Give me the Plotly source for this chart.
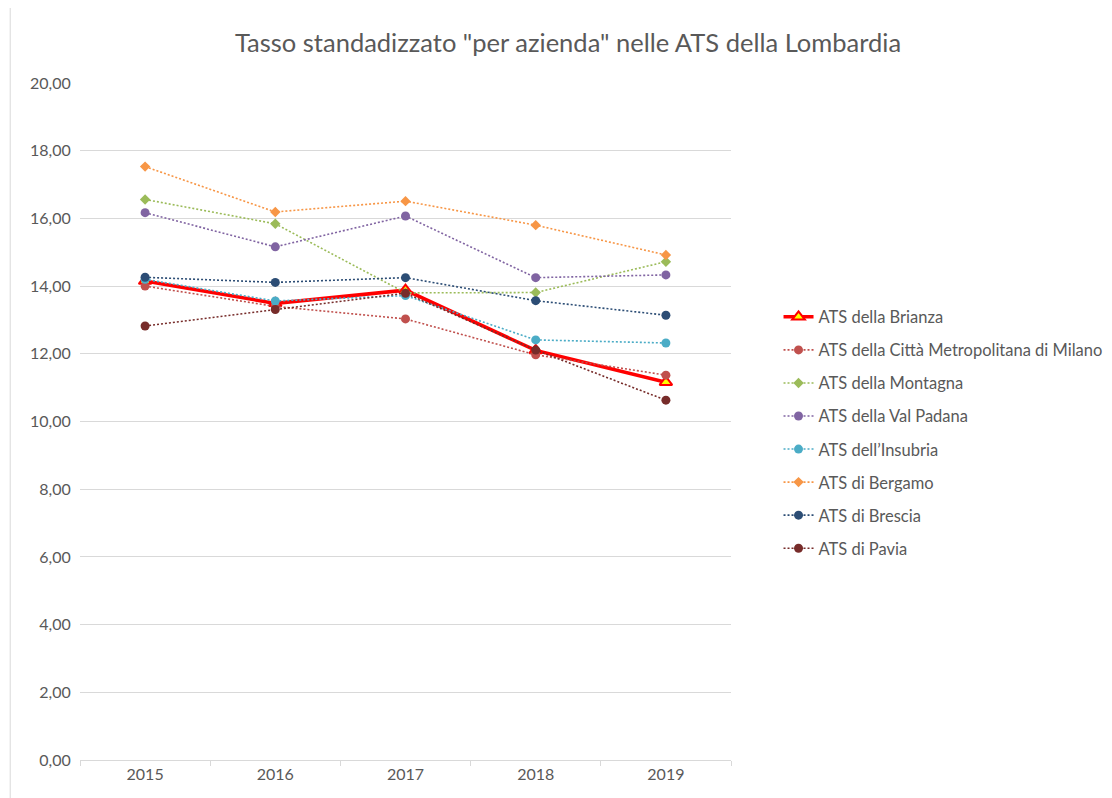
import plotly.graph_objects as go

years = ["2015", "2016", "2017", "2018", "2019"]

brianza = [14.15, 13.49, 13.88, 12.10, 11.16]
milano = [14.00, 13.40, 13.03, 11.97, 11.37]
montagna = [16.56, 15.84, 13.80, 13.81, 14.72]
val_padana = [16.17, 15.16, 16.07, 14.25, 14.33]
insubria = [14.20, 13.56, 13.72, 12.41, 12.32]
bergamo = [17.53, 16.19, 16.51, 15.80, 14.92]
brescia = [14.26, 14.11, 14.25, 13.57, 13.14]
pavia = [12.82, 13.31, 13.79, 12.11, 10.63]

series = [
    ("ATS della Città Metropolitana di Milano", milano, "#C0504D", "circle"),
    ("ATS della Montagna", montagna, "#9BBB59", "diamond"),
    ("ATS della Val Padana", val_padana, "#8064A2", "circle"),
    ("ATS dell\u2019Insubria", insubria, "#4BACC6", "circle"),
    ("ATS di Bergamo", bergamo, "#F79646", "diamond"),
    ("ATS di Brescia", brescia, "#2C4D75", "circle"),
    ("ATS di Pavia", pavia, "#772C2A", "circle"),
]

fig = go.Figure()
fig.add_trace(go.Scatter(
    x=years, y=brianza, name="ATS della Brianza", mode="lines+markers",
    line=dict(color="#FF0000", width=3.5),
    marker=dict(symbol="triangle-up", size=11, color="#FFFF00",
                line=dict(color="#FF0000", width=2)),
    legendgroup="g0",
))
for i, (name, vals, color, sym) in enumerate(series):
    fig.add_trace(go.Scatter(
        x=years, y=vals, name=name, mode="lines+markers",
        line=dict(color=color, width=1.6, dash="2px,2px"),
        marker=dict(symbol=sym, size=9 if sym == "circle" else 8, color=color),
        legendgroup="g%d" % (i + 1),
    ))

fig.update_layout(
    width=1112, height=798,
    margin=dict(l=72, r=387, t=75, b=46),
    paper_bgcolor="white", plot_bgcolor="white",
    font=dict(family="Lato, Open Sans, sans-serif", color="#595959", size=16),
    title=dict(text='Tasso standadizzato "per azienda" nelle ATS della Lombardia',
               x=560 / 1112, xref="container", xanchor="center",
               y=1 - 35 / 798, yref="container", yanchor="middle",
               font=dict(size=25.5, color="#595959")),
    showlegend=True,
    legend=dict(x=1.073, y=0.68, xanchor="left", yanchor="top",
                font=dict(size=16.5, color="#595959"), tracegroupgap=8.6,
                bgcolor="rgba(0,0,0,0)"),
    xaxis=dict(type="category", range=[-0.5, 4.5], showgrid=False,
               showline=True, linecolor="#D9D9D9", linewidth=1,
               ticks="outside", tickson="boundaries", ticklen=5,
               tickcolor="#D9D9D9", tickfont=dict(size=16, color="#595959")),
    yaxis=dict(range=[0, 20], dtick=2, tickformat=",.2f",
               showgrid=True, gridcolor="#D9D9D9", gridwidth=1,
               zeroline=False, showline=False, ticks="",
               tickfont=dict(size=16, color="#595959"), ticksuffix="  "),
    separators=", ",
)
fig.add_shape(type="line", xref="paper", yref="paper",
              x0=-70 / 653, x1=-70 / 653, y0=-46 / 677, y1=1 + 75 / 677,
              line=dict(color="#D9D9D9", width=1))

fig.write_html("out.html")
